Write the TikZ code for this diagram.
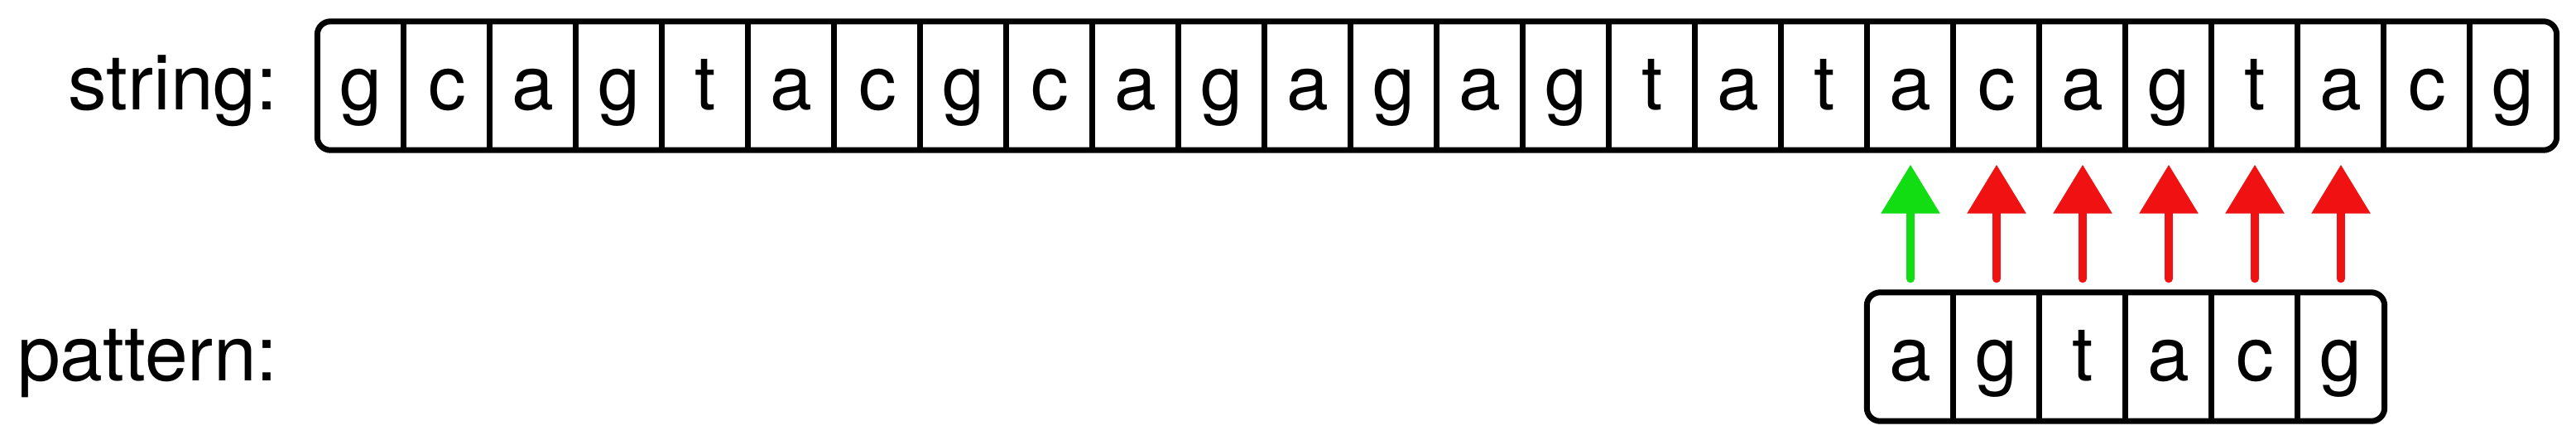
\documentclass[tikz,border=0pt]{standalone}
\usepackage{fontspec}
\setmainfont{TeX Gyre Heros}
\usepackage{xcolor}
\usepackage{tikz}
\usetikzlibrary{fit}
\usetikzlibrary{arrows.meta}
\definecolor{hitgreen}{RGB}{18,221,18}
\definecolor{missred}{RGB}{240,18,18}
\tikzset{
    cell/.style={minimum width=1.04cm, minimum height=1.54cm, inner sep=0pt,
        text height=0.75cm, text depth=0.18cm, font=\fontsize{26}{30}\selectfont},
    lbl/.style={inner sep=0pt, font=\fontsize{26.5}{30}\selectfont},
    frame/.style={draw, line width=0.07cm, rounded corners=0.16cm, inner sep=0pt},
    divider/.style={line width=0.07cm},
    probe/.style={line width=0.1cm, line cap=round, -{Triangle[length=0.59cm, width=0.69cm]},
        shorten <=0.165cm, shorten >=0.175cm}
}
\begin{document}
\begin{tikzpicture}
	\useasboundingbox (0,0) rectangle (31.12,5.36);

	% string
	\foreach \c [count=\i] in {g,c,a,g,t,a,c,g,c,a,g,a,g,a,g,t,a,t,a,c,a,g,t,a,c,g}
	    \node[cell] (s\i) at ({4.36+(\i-1)*1.04}, 4.325) {\c};
	\node[frame, fit=(s1)(s26)] (sbox) {};
	\foreach \i in {2,...,26}
	    \draw[divider] (s\i.north west) -- (s\i.south west);
	\node[lbl, anchor=base east] (slabel) at ([xshift=-0.47cm]s1.base west) {string:};

	% pattern
	\foreach \c [count=\i, evaluate=\i as \j using int(\i+18)] in {a,g,t,a,c,g}
	    \node[cell] (p\i) at (s\j |- 0,1.055) {\c};
	\node[frame, fit=(p1)(p6)] (pbox) {};
	\foreach \i in {2,...,6}
	    \draw[divider] (p\i.north west) -- (p\i.south west);
	\node[lbl, anchor=base east] (plabel) at (slabel.base east |- p1.base) {pattern:};

	% arrows
	\draw[probe, hitgreen] (p1.north) -- (s19.south);
	\foreach \i [evaluate=\i as \j using int(\i+18)] in {2,...,6}
	    \draw[probe, missred] (p\i.north) -- (s\j.south);
\end{tikzpicture}
\end{document}
